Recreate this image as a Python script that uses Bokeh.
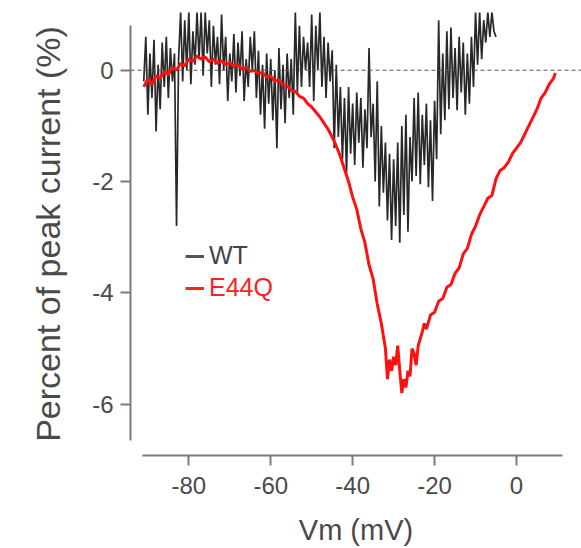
from bokeh.plotting import figure
from bokeh.models import Span, Legend, LegendItem, FixedTicker, CustomJSTickFormatter, Range1d
from bokeh.embed import file_html
from bokeh.resources import INLINE

# ---- data ----
x_ticks = [-80, -60, -40, -20, 0]
y_ticks = [-6, -4, -2, 0]

# WT trace, sampled every 0.5 mV starting at -91 mV
wt_start = -91.0
wt_step = 0.5
wt_pct = [
    -0.2, 0.6, -0.8, 0.3, -0.5, 0.55, -1.1, 0.1, -0.7, 0.5,
    -0.3, 0.6, -0.5, 0.4, -0.2, 0.3, -2.8, 0.2, 1.05, -0.2,
    0.9, 0.0, 1.05, -0.25, 0.7, 0.1, 1.05, 0.2, 1.05, -0.1,
    1.05, 0.3, 0.9, -0.3, 0.8, 0.1, 0.6, -0.25, 1.0, 0.0,
    0.6, -0.55, 0.3, -0.2, 0.65, -0.4, 0.5, -0.1, 0.7, -0.55,
    0.2, -0.3, 0.6, 0.0, 0.7, -0.5, 0.35, -0.8, 0.1, -1.05,
    0.3, -0.6, 0.2, -0.9, 0.0, -1.4, 0.4, -0.7, 0.1, -0.95,
    0.3, -0.5, 0.2, -0.8, 1.05, -0.4, 0.8, -0.3, 0.6, 0.0,
    0.5, -0.3, 1.0, -0.55, 0.8, 0.0, 1.05, -0.3, 0.6, -0.5,
    0.5, -0.2, 0.36, -1.4, 0.1, -1.2, -0.3, -1.6, -0.5, -1.85,
    -0.3, -1.5, -0.6, -1.7, -0.4, -1.3, -0.5, -1.75, -0.7, -1.4,
    0.4, -1.2, -0.6, -2.0, -0.2, -2.45, -1.0, -2.2, -1.3, -2.7,
    -1.5, -3.05, -1.6, -2.8, -1.3, -3.1, -1.0, -2.6, -0.8, -2.9,
    -1.2, -2.0, -0.5, -1.9, -0.4, -2.05, -0.8, -1.7, -0.6, -2.1,
    -0.9, -2.35, -0.55, -1.6, 0.9, -1.15, 0.3, -0.9, 0.7, -0.7,
    0.77, -0.5, 0.4, -0.72, 0.6, -0.4, 0.5, -0.8, 0.3, -0.6,
    0.6, -0.3, 1.05, 0.1, 1.05, 0.2, 0.9, 0.5, 1.05, 0.6,
    1.05, 0.7, 0.6,
]
wt_vm = [wt_start + wt_step * i for i in range(len(wt_pct))]

# E44Q trace
e44q_vm = [
    -91, -90, -89, -88, -87, -86, -85, -84, -83, -82,
    -81, -80, -79, -78, -77, -76, -75, -74, -73, -72,
    -71, -70, -69, -68, -67, -66, -65, -64, -63, -62,
    -61, -60, -59, -58, -57, -56, -55, -54, -53, -52,
    -51, -50, -49, -48, -47, -46, -45, -44, -43, -42,
    -41, -40, -39, -38, -37, -36, -35, -34, -33, -32,
    -31.5, -31, -30.5, -30, -29.5, -29, -28.5, -28, -27.5, -27,
    -26.5, -26, -25.5, -25, -24.5, -24, -23, -22.5, -22, -21,
    -20, -19, -18, -17, -16, -15, -14, -13, -12, -11,
    -10, -9, -8, -7, -6, -5, -4, -3, -2, -1,
    0, 1, 2, 3, 4, 5, 6, 7, 8, 9, 9.5,
]
e44q_pct = [
    -0.3, -0.15, -0.25, -0.1, -0.15, -0.02, -0.08, 0.05, 0.0, 0.12,
    0.08, 0.2, 0.16, 0.26, 0.2, 0.24, 0.15, 0.2, 0.12, 0.17,
    0.1, 0.14, 0.06, 0.1, 0.02, 0.05, -0.02, 0.0, -0.06, -0.04,
    -0.12, -0.1, -0.2, -0.17, -0.26, -0.28, -0.36, -0.38, -0.47, -0.5,
    -0.6, -0.66, -0.75, -0.84, -0.95, -1.06, -1.2, -1.36, -1.55, -1.78,
    -2.0, -2.28, -2.5, -2.85, -3.1, -3.5, -3.75, -4.2, -4.55, -5.0,
    -5.55, -5.2, -5.4, -5.15, -5.3, -4.95, -5.4, -5.8, -5.55, -5.7,
    -5.4, -5.5, -5.0, -5.1, -5.3, -4.95, -4.7, -4.55, -4.65, -4.4,
    -4.35, -4.15, -4.1, -3.9, -3.85, -3.65, -3.55, -3.3, -3.2, -2.95,
    -2.8, -2.6, -2.45, -2.3, -2.25, -1.95, -1.8, -1.75, -1.65, -1.5,
    -1.4, -1.3, -1.15, -1.0, -0.85, -0.7, -0.5, -0.4, -0.25, -0.15, -0.05,
]

FONT = "Liberation Sans"
AXIS_GRAY = "#7a7a7a"
TEXT_GRAY = "#4a4a4a"

p = figure(
    width=581, height=548,
    x_range=Range1d(-94.24, 15.87), y_range=Range1d(-6.923, 1.038),
    output_backend="svg", toolbar_location=None,
    min_border_left=130, min_border_right=0, min_border_top=12, min_border_bottom=91,
)
p.outline_line_color = None
p.xgrid.visible = False
p.ygrid.visible = False
p.background_fill_color = "white"
p.border_fill_color = "white"

p.add_layout(Span(location=0, dimension="width", line_color="#555555",
                  line_width=1, line_dash="4 3"))

p.line(wt_vm, wt_pct, line_color="#111111", line_width=1.7, line_alpha=0.9)
p.line(e44q_vm, e44q_pct, line_color="#ff1010", line_width=3)

# legend-only glyphs (single NaN point so that nothing shows in the plot)
nan = float("nan")
lw = p.line([nan], [nan], line_color="#555555", line_width=3)
le = p.line([nan], [nan], line_color="#ff2020", line_width=3)

for rend, lab, col, loc in [(lw, "WT", "#444444", (55, 185)), (le, "E44Q", "#ff2020", (55, 153))]:
    lg = Legend(items=[LegendItem(label=lab, renderers=[rend])], location=loc,
                background_fill_alpha=0, border_line_color=None, padding=0, margin=0,
                glyph_width=19, glyph_height=20, label_standoff=5,
                label_text_font=FONT, label_text_font_size="25px", label_text_color=col)
    p.add_layout(lg, "center")

fmt = CustomJSTickFormatter(code="return String(tick);")
for ax, ticks in [(p.xaxis[0], x_ticks), (p.yaxis[0], y_ticks)]:
    ax.ticker = FixedTicker(ticks=ticks)
    ax.formatter = fmt
    ax.minor_tick_line_color = None
    ax.major_tick_in = 0
    ax.major_tick_out = 10
    ax.axis_line_color = AXIS_GRAY
    ax.axis_line_width = 2
    ax.major_tick_line_color = AXIS_GRAY
    ax.major_tick_line_width = 2
    ax.major_label_text_font = FONT
    ax.major_label_text_font_size = "24px"
    ax.major_label_text_color = TEXT_GRAY
    ax.axis_label_text_font = FONT
    ax.axis_label_text_font_style = "normal"
    ax.axis_label_text_color = TEXT_GRAY

p.xaxis[0].bounds = (-91.4, 11.2)
p.yaxis[0].bounds = (-6.65, 0.8)
p.xaxis[0].axis_label = "Vm (mV)"
p.xaxis[0].axis_label_text_font_size = "29px"
p.xaxis[0].major_label_standoff = 11
p.xaxis[0].axis_label_standoff = 17
p.yaxis[0].axis_label = "Percent of peak current (%)"
p.yaxis[0].axis_label_text_font_size = "34px"
p.yaxis[0].major_label_standoff = 7
p.yaxis[0].axis_label_standoff = 22

open("out.html", "w").write(file_html(p, INLINE))
